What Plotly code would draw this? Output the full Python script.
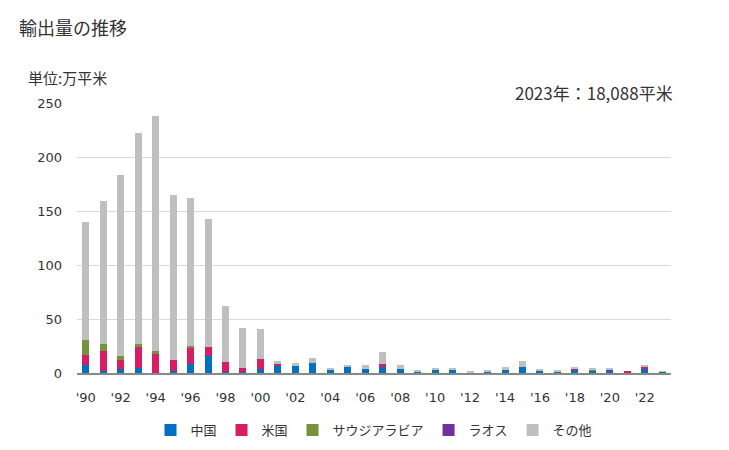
import plotly.graph_objects as go

years = list(range(1990, 2024))
china = [7, 2, 3.4, 5, 0, 1.8, 8.6, 16, 1.2, 1.2,
         3.7, 7, 6.8, 9.5, 3, 5.8, 4, 5.8, 4, 1.2,
         3, 3, 0, 1.2, 3, 5.8, 2, 1.2, 3.4, 2,
         2, 0, 4, 1.2]
usa = [10, 18, 9, 19, 18, 10.5, 14.8, 8.4, 9.3, 3.7,
       9.5, 1.6, 0, 0, 0, 0, 0, 2.8, 0, 0,
       0, 0, 0, 0, 0, 0, 0, 0, 0.7, 0,
       0, 1.3, 1.8, 0]
saudi = [14, 7, 3, 3, 2.7, 0, 1.9, 0, 0, 0,
         0, 0, 0, 0, 0, 0, 0, 0, 0, 0,
         0, 0, 0, 0, 0, 0, 0, 0, 0, 1,
         0, 0, 0, 0]
laos = [0, 0, 0, 0, 0, 0, 0, 0, 0, 0,
        0, 0, 0, 0, 0, 0, 0, 0, 0, 0,
        0, 0, 0, 0, 0, 0, 0, 0, 0, 0,
        1.2, 0, 0, 0]
other = [109, 132.5, 167.7, 195, 217.6, 152.7, 137, 118.5, 51.8, 37,
         27.8, 2.8, 2.7, 4.7, 1, 1, 3.7, 11, 3.7, 1.8,
         1, 1, 1.2, 1.8, 2.8, 5.6, 1, 0.8, 0.8, 1,
         0.8, 0, 1, 0.6]

series = [("中国", china, "#0070C0"),
          ("米国", usa, "#D81E62"),
          ("サウジアラビア", saudi, "#76923C"),
          ("ラオス", laos, "#7030A0"),
          ("その他", other, "#BFBFBF")]

tick_years = list(range(1990, 2024, 2))
tick_text = ["'" + str(y)[2:] for y in tick_years]

fig = go.Figure()
for name, vals, color in series:
    fig.add_trace(go.Bar(x=years, y=vals, name=name, marker_color=color,
                         marker_line_width=0))

jp = "Noto Sans CJK JP"
num = "DejaVu Sans"
PW, PH = 594, 270
fig.update_layout(
    width=729, height=450,
    barmode="stack", bargap=0.6,
    plot_bgcolor="white", paper_bgcolor="white",
    margin=dict(l=77, r=58, t=103, b=77, autoexpand=False),
    font=dict(family=jp, color="#333333", size=12),
    showlegend=True,
    legend=dict(orientation="h", x=0.5, xanchor="center", y=(373 - 430) / PH, yanchor="middle",
                font=dict(family=jp, size=13, color="#333333"), itemwidth=30,
                traceorder="normal"),
    xaxis=dict(range=[1989.5, 2023.5], tickvals=tick_years, ticktext=tick_text,
               showgrid=False, showline=True, linecolor="#888888", linewidth=2,
               ticks="", ticklabelstandoff=11, automargin=False,
               tickfont=dict(family=num, size=13, color="#333333")),
    yaxis=dict(range=[0, 250], dtick=50, showgrid=True, gridcolor="#D9D9D9",
               gridwidth=1, zeroline=False, ticks="", ticklabelstandoff=14, automargin=False,
               tickfont=dict(family=num, size=13, color="#333333")),
    annotations=[
        dict(text="輸出量の推移", xref="paper", yref="paper", x=(17 - 77) / PW, y=(373 - 27) / PH,
             xanchor="left", yanchor="middle", showarrow=False,
             font=dict(family=jp, size=18, color="#333333")),
        dict(text="単位:万平米", xref="paper", yref="paper", x=(26 - 77) / PW, y=(373 - 77) / PH,
             xanchor="left", yanchor="middle", showarrow=False,
             font=dict(family=jp, size=15, color="#333333")),
        dict(text="2023年：18,088平米", xref="paper", yref="paper", x=(675 - 77) / PW, y=(373 - 92) / PH,
             xanchor="right", yanchor="middle", showarrow=False,
             font=dict(family=jp, size=17, color="#333333")),
    ],
)

fig.write_html("out.html")
